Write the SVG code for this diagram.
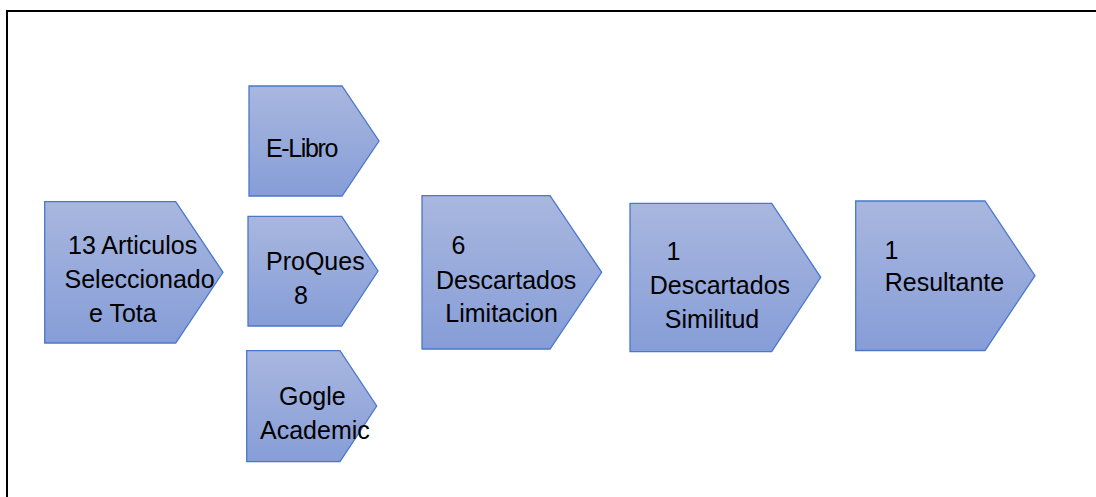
<svg xmlns="http://www.w3.org/2000/svg" width="1096" height="497" viewBox="0 0 1096 497">
<defs>
<linearGradient id="gf" x1="0" y1="0" x2="0" y2="1">
<stop offset="0" stop-color="#A9B7DF"/>
<stop offset="0.5" stop-color="#97AADB"/>
<stop offset="1" stop-color="#869DD7"/>
</linearGradient>
<style>
.s{fill:url(#gf);stroke:#4A77CC;stroke-width:1.3}
.t{font-family:"Liberation Sans",Arial,sans-serif;font-size:25px;fill:#000}
.f{fill:none;stroke:#000;stroke-width:2}
</style>
</defs>
<rect width="1096" height="497" fill="#fff"/>
<g id="frame">
<path class="f" d="M7,497 V11 H1096"/>
</g>
<g id="connectors"/>
<g id="n-total">
<path class="s" d="M44.7,201.7 H175.7 L223,272.3 L175.7,343 H44.7 Z"/>
<text class="t"><tspan x="68" y="254">13 Articulos</tspan><tspan x="64.5" y="288">Seleccionado</tspan><tspan x="89" y="321.5">e Tota</tspan></text>
</g>
<g id="n-elibro">
<path class="s" d="M249,86 H342 L379,141 L342,196 H249 Z"/>
<text class="t"><tspan x="266" y="157" textLength="72.5" lengthAdjust="spacing">E-Libro</tspan></text>
</g>
<g id="n-proques">
<path class="s" d="M248,216.3 H341.7 L378,271 L341.7,326 H248 Z"/>
<text class="t"><tspan x="266" y="270">ProQues</tspan><tspan x="294" y="303.5">8</tspan></text>
</g>
<g id="n-gogle">
<path class="s" d="M246.7,350.7 H340 L376.7,406 L340,461.7 H246.7 Z"/>
<text class="t"><tspan x="279" y="405">Gogle</tspan><tspan x="260" y="438.5">Academic</tspan></text>
</g>
<g id="n-limitacion">
<path class="s" d="M422,195.7 H550 L601.7,272.3 L550,349 H422 Z"/>
<text class="t"><tspan x="451.5" y="254">6</tspan><tspan x="436" y="288.5">Descartados</tspan><tspan x="445.3" y="322">Limitacion</tspan></text>
</g>
<g id="n-similitud">
<path class="s" d="M630,203.3 H771.7 L820.7,277.3 L771.7,351.7 H630 Z"/>
<text class="t"><tspan x="666.5" y="259.5">1</tspan><tspan x="649.7" y="293.5">Descartados</tspan><tspan x="664.8" y="327.5">Similitud</tspan></text>
</g>
<g id="n-resultante">
<path class="s" d="M855.7,201 H985 L1035,275.7 L985,350.5 H855.7 Z"/>
<text class="t"><tspan x="884.5" y="258.5">1</tspan><tspan x="884.7" y="291">Resultante</tspan></text>
</g>
</svg>
